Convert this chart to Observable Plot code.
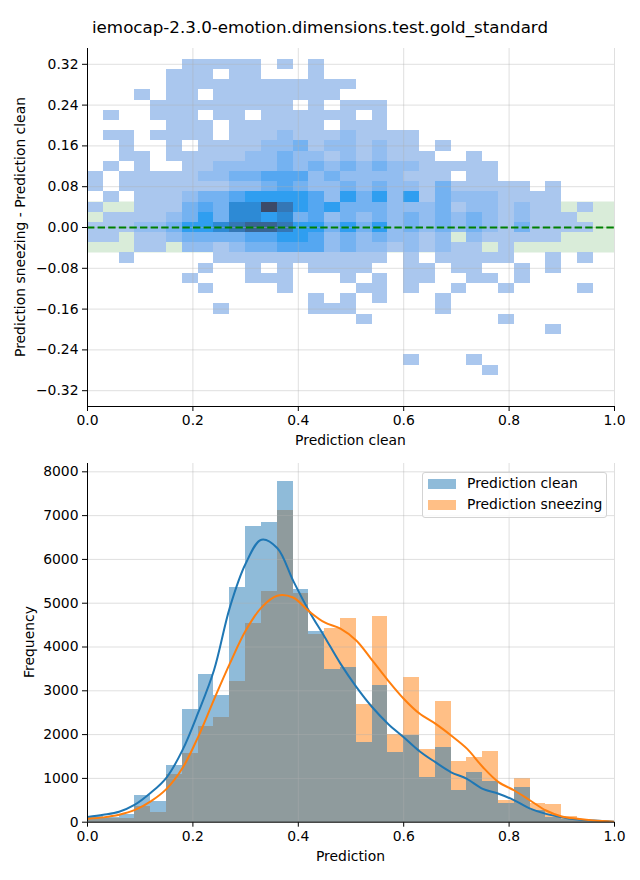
<!DOCTYPE html>
<html><head><meta charset="utf-8">
<script src="https://cdn.jsdelivr.net/npm/d3@7"></script>
<script src="https://cdn.jsdelivr.net/npm/@observablehq/plot@0.6"></script>
<style>
body{margin:0;background:#fff;font-family:"DejaVu Sans",sans-serif;}
#root{position:relative;width:640px;height:880px;overflow:hidden;background:#fff;}
.abs{position:absolute;white-space:nowrap;color:#000;line-height:1;}
.lbl{font-size:13.9px;transform:translate(-50%,-50%);}
.rot{font-size:13.9px;transform:translate(-50%,-50%) rotate(-90deg);}
#legend{position:absolute;left:422px;top:472px;width:183px;height:44px;border:1px solid #d3d3d3;border-radius:3px;background:rgba(255,255,255,0.8);}
.sw{position:absolute;left:5px;width:28px;height:10px;}
.lt{position:absolute;left:44px;font-size:13.9px;line-height:1;white-space:nowrap;}
</style></head><body><div id="root"></div>
<script>
// ---------- data ----------
const title = "iemocap-2.3.0-emotion.dimensions.test.gold_standard";
const xTicks = [0, 0.2, 0.4, 0.6, 0.8, 1.0];
const diffTicks = [-0.32, -0.24, -0.16, -0.08, 0, 0.08, 0.16, 0.24, 0.32];
const countTicks = [0, 1000, 2000, 3000, 4000, 5000, 6000, 7000, 8000];
const tolerance = 0.05;

// shared bin edges (width 0.03) used by both panels
const binEdges = [0, 0.03, 0.06, 0.09, 0.12, 0.15, 0.18, 0.21, 0.24, 0.27, 0.30, 0.33, 0.36, 0.39, 0.42, 0.45, 0.48, 0.51, 0.54, 0.57, 0.60, 0.63, 0.66, 0.69, 0.72, 0.75, 0.78, 0.81, 0.84, 0.87, 0.90, 0.93, 0.96, 0.99];

// 2D histogram: row centres (difference), half-height 0.01; density level per column (0 = empty)
const heatRowCenters = [0.32, 0.30, 0.28, 0.26, 0.24, 0.22, 0.20, 0.18, 0.16, 0.14, 0.12, 0.10, 0.08, 0.06, 0.04, 0.02, 0.00, -0.02, -0.04, -0.06, -0.08, -0.10, -0.12, -0.14, -0.16, -0.18, -0.20, -0.22, -0.24, -0.26, -0.28];
const heatRowHalf = 0.01;
const heatLevels = [
  "000000111110101000000000000000000",
  "000001110110001000000000000000000",
  "000001111111111110000000000000000",
  "000101101111111100000000000000000",
  "000011111111101011100000000000000",
  "010011101101111110100000000000000",
  "000001110111111011100000000000000",
  "011011110111211121111000000000000",
  "001001011112231221211010000000000",
  "001101111122322121211100100000000",
  "010100112222323232322111110000000",
  "101111122334442322221110110000000",
  "101111111223432232322131111101000",
  "010111233455554253525132221111000",
  "100111343669754533322231221211010",
  "011112353665634232323232321211100",
  "111223556788755353523232321311110",
  "110112333344554232322120211111000",
  "000110221233444232212121101000000",
  "001000001111111111101011111001010",
  "000000010010101111001101100101000",
  "000000100011100010101100110100000",
  "000000010000100001101001001000010",
  "000000000000001010100010000000000",
  "000000001000001110000010000000000",
  "000000000000000001000000001000000",
  "000000000000000000000000000001000",
  "000000000000000000000000000000000",
  "000000000000000000000000000000000",
  "000000000000000000001000100000000",
  "000000000000000000000000010000000"
];

// 1D histograms (counts per bin)
const histClean    = [120, 100, 180, 610, 470, 1300, 2580, 3380, 2900, 5360, 6760, 6850, 7790, 5320, 4360, 3490, 3540, 1820, 3120, 1600, 1980, 1030, 1710, 720, 1130, 940, 435, 790, 260, 110, 70, 40, 20];
const histSneezing = [110, 90, 95, 360, 230, 1100, 1560, 2190, 2390, 3220, 4530, 5270, 7120, 5220, 4290, 4420, 4660, 2690, 4700, 2000, 3300, 1660, 2760, 1390, 1480, 1610, 500, 990, 430, 400, 130, 50, 20];

// KDE curves (read at points)
const kdeX        = [0, 0.03, 0.06, 0.09, 0.12, 0.15, 0.18, 0.21, 0.24, 0.27, 0.30, 0.33, 0.36, 0.39, 0.42, 0.45, 0.48, 0.51, 0.54, 0.57, 0.60, 0.63, 0.66, 0.69, 0.72, 0.75, 0.78, 0.81, 0.84, 0.87, 0.90, 0.93, 0.96, 1.0];
const kdeClean    = [120, 170, 240, 400, 670, 1020, 1640, 2500, 3470, 4900, 5900, 6450, 6260, 5520, 4830, 4230, 3620, 3090, 2630, 2250, 1940, 1620, 1370, 1140, 990, 760, 650, 500, 310, 190, 115, 62, 38, 12];
const kdeSneezing = [80, 110, 170, 280, 475, 760, 1230, 1950, 2800, 3620, 4370, 4900, 5170, 5130, 4820, 4560, 4420, 4150, 3700, 3240, 2820, 2480, 2250, 1980, 1680, 1260, 914, 724, 496, 267, 130, 77, 38, 12];

// ---------- styles ----------
const heatPalette = ["#aac7ee", "#92bdf0", "#74b2f1", "#55a7f1", "#2f9ef0", "#2d8ad5", "#3477b6", "#396492", "#3c4a68"];
const gridStyle = {stroke: "#b0b0b0", strokeOpacity: 0.5, strokeWidth: 0.8};
const plotStyle = {fontFamily: "DejaVu Sans", fontSize: "13.9px", color: "black", background: "transparent", overflow: "visible"};
const fmtMinus = (s) => s.replace("-", "\u2212");

// ---------- build tables ----------
const cells = [];
heatLevels.forEach((row, i) => {
  for (let j = 0; j < row.length && j + 1 < binEdges.length; j++) {
    const lv = +row[j];
    if (lv > 0) cells.push({x1: binEdges[j], x2: binEdges[j + 1], y1: heatRowCenters[i] - heatRowHalf, y2: heatRowCenters[i] + heatRowHalf, level: lv});
  }
});
const hist = histClean.map((c, i) => ({x1: binEdges[i], x2: binEdges[i + 1], clean: c, sneezing: histSneezing[i]}));
const kde = kdeX.map((x, i) => ({x, clean: kdeClean[i], sneezing: kdeSneezing[i]}));

const yTopDomain = [-0.351, 0.351];

const topPlot = Plot.plot({
  width: 640, height: 430, marginLeft: 87, marginRight: 26, marginTop: 48, marginBottom: 24,
  style: plotStyle,
  x: {domain: [0, 1], ticks: xTicks, tickFormat: d => d.toFixed(1), tickSize: 5, tickPadding: 4, label: null},
  y: {domain: yTopDomain, ticks: diffTicks, tickFormat: d => fmtMinus(d.toFixed(2)), tickSize: 5, tickPadding: 4, label: null},
  color: {type: "identity"},
  marks: [
    Plot.rect([tolerance], {x1: 0, x2: 1, y1: d => -d, y2: d => d, fill: "#d9ecd9"}),
    Plot.rect(cells, {x1: "x1", x2: "x2", y1: "y1", y2: "y2", fill: d => heatPalette[d.level - 1], shapeRendering: "crispEdges"}),
    Plot.ruleX(xTicks, gridStyle),
    Plot.ruleY(diffTicks, gridStyle),
    Plot.ruleY([0], {stroke: "#008000", strokeWidth: 2, strokeDasharray: "7.4,3.2"}),
    Plot.ruleX([0], {stroke: "black", strokeWidth: 1}),
    Plot.ruleY([yTopDomain[0]], {stroke: "black", strokeWidth: 1})
  ]
});

const bottomPlot = Plot.plot({
  width: 640, height: 420, marginLeft: 87, marginRight: 26, marginTop: 23, marginBottom: 38.3,
  style: plotStyle,
  x: {domain: [0, 1], ticks: xTicks, tickFormat: d => d.toFixed(1), tickSize: 5, tickPadding: 4, label: null},
  y: {domain: [0, 8190], ticks: countTicks, tickFormat: d => String(d), tickSize: 5, tickPadding: 4, label: null},
  marks: [
    Plot.rect(hist, {x1: "x1", x2: "x2", y1: 0, y2: "sneezing", fill: "#ff7f0e", fillOpacity: 0.5, shapeRendering: "crispEdges"}),
    Plot.rect(hist, {x1: "x1", x2: "x2", y1: 0, y2: "clean", fill: "#1f77b4", fillOpacity: 0.5, shapeRendering: "crispEdges"}),
    Plot.ruleX(xTicks, gridStyle),
    Plot.ruleY(countTicks, gridStyle),
    Plot.line(kde, {x: "x", y: "clean", stroke: "#1f77b4", strokeWidth: 2, curve: "catmull-rom", clip: true}),
    Plot.line(kde, {x: "x", y: "sneezing", stroke: "#ff7f0e", strokeWidth: 2, curve: "catmull-rom", clip: true}),
    Plot.ruleX([0], {stroke: "black", strokeWidth: 1}),
    Plot.ruleY([0], {stroke: "black", strokeWidth: 1})
  ]
});

// ---------- layout ----------
const root = document.getElementById("root");
function place(node, top) {
  const d = document.createElement("div");
  d.style.position = "absolute"; d.style.left = "0px"; d.style.top = top + "px";
  d.appendChild(node); root.appendChild(d);
}
place(topPlot, 0);
place(bottomPlot, 440);

function text(str, cls, x, y, size) {
  const d = document.createElement("div");
  d.className = "abs " + cls;
  d.style.left = x + "px"; d.style.top = y + "px";
  if (size) d.style.fontSize = size;
  d.textContent = str;
  root.appendChild(d);
}
text(title, "lbl", 320, 27, "16.7px");
text("Prediction clean", "lbl", 350.5, 441);
text("Prediction sneezing - Prediction clean", "rot", 21, 227);
text("Prediction", "lbl", 350.5, 857);
text("Frequency", "rot", 30, 642);

const lg = document.createElement("div");
lg.id = "legend";
lg.innerHTML =
  '<div class="sw" style="top:6px;background:#1f77b4;opacity:0.5"></div>' +
  '<div class="lt" style="top:4px">Prediction clean</div>' +
  '<div class="sw" style="top:27px;background:#ff7f0e;opacity:0.5"></div>' +
  '<div class="lt" style="top:25px">Prediction sneezing</div>';
root.appendChild(lg);
</script></body></html>
